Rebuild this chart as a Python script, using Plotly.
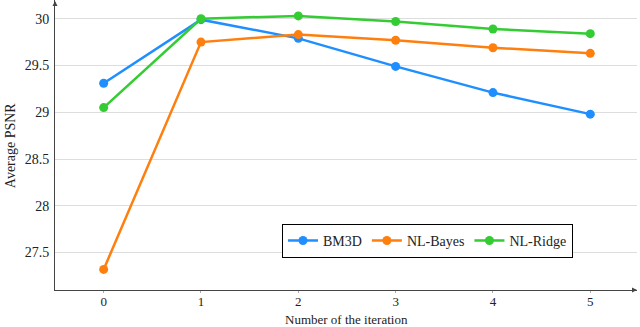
import plotly.graph_objects as go

iterations = [0, 1, 2, 3, 4, 5]
bm3d = [29.31, 29.99, 29.79, 29.49, 29.21, 28.98]
nl_bayes = [27.32, 29.75, 29.83, 29.77, 29.69, 29.63]
nl_ridge = [29.05, 30.00, 30.03, 29.97, 29.89, 29.84]

series = [("BM3D", bm3d, "#1f8fff"), ("NL-Bayes", nl_bayes, "#ff7f0e"), ("NL-Ridge", nl_ridge, "#33cc33")]

fig = go.Figure()
for name, vals, col in series:
    fig.add_trace(go.Scatter(x=iterations, y=vals, name=name, mode="lines+markers",
                             line=dict(color=col, width=2.5), marker=dict(color=col, size=9)))

font = "Liberation Serif"
fig.update_layout(
    width=640, height=327,
    margin=dict(l=55, r=3, t=0, b=37),
    plot_bgcolor="white", paper_bgcolor="white",
    font=dict(family=font, size=14, color="#222"),
    showlegend=True,
    legend=dict(orientation="h", x=0.39, y=0.228, xanchor="left", yanchor="top",
                bordercolor="black", borderwidth=1, bgcolor="white",
                font=dict(family=font, size=14)),
    xaxis=dict(range=[-0.5, 5.48], tickvals=iterations, showgrid=False, zeroline=False,
               automargin=False,
               showline=True, linecolor="#444", linewidth=1, ticks="outside", ticklen=2,
               tickcolor="#aaa", ticklabelstandoff=-3, tickfont=dict(family=font, size=13)),
    yaxis=dict(range=[27.1, 30.2], tickvals=[27.5, 28, 28.5, 29, 29.5, 30],
               ticktext=["27.5", "28", "28.5", "29", "29.5", "30"],
               automargin=False,
               showgrid=True, gridcolor="#dddddd", gridwidth=1, zeroline=False,
               showline=True, linecolor="#444", linewidth=1, ticks="", ticklabelstandoff=2,
               tickfont=dict(family=font, size=14)),
)
fig.add_annotation(text="Number of the iteration", x=0.5, y=-0.102, xref="paper", yref="paper",
                   xanchor="center", yanchor="middle", showarrow=False,
                   font=dict(family=font, size=13))
fig.add_annotation(text="Average PSNR", x=-0.077, y=0.5, xref="paper", yref="paper",
                   xanchor="center", yanchor="middle", showarrow=False, textangle=-90,
                   font=dict(family=font, size=14))
# axis arrow tips
fig.add_annotation(x=1.0, y=0, xref="paper", yref="paper", ax=-6, ay=0, text="",
                   showarrow=True, arrowhead=2, arrowsize=1, arrowwidth=1, arrowcolor="#444")
fig.add_annotation(x=0, y=1.0, xref="paper", yref="paper", ax=0, ay=6, text="",
                   showarrow=True, arrowhead=2, arrowsize=1, arrowwidth=1, arrowcolor="#444")

fig.write_html("out.html", config={"displayModeBar": False},
               post_script="document.body.style.margin='0';")
